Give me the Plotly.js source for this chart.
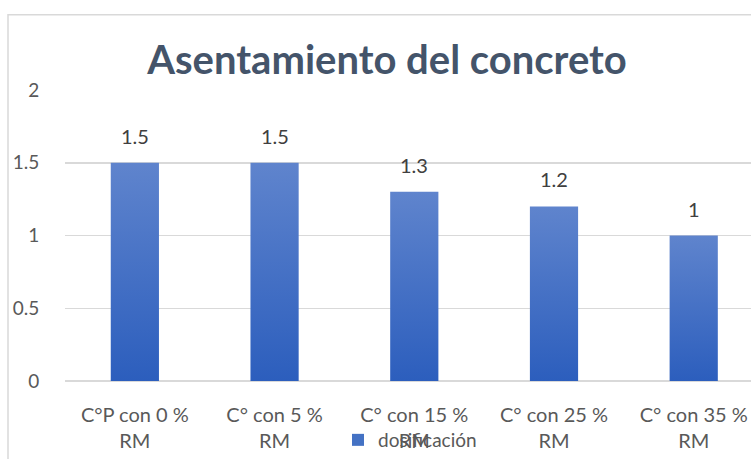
<!DOCTYPE html>
<html>
<head>
<meta charset="utf-8">
<script src="https://cdn.plot.ly/plotly-3.0.1.min.js"></script>
<style>
html,body{margin:0;padding:0;background:#fff;}
#chart{width:751px;height:459px;}
</style>
</head>
<body>
<div id="chart"></div>
<script>
var categories = ["C°P con 0 %<br>RM", "C° con 5 %<br>RM", "C° con 15 %<br>RM", "C° con 25 %<br>RM", "C° con 35 %<br>RM"];
var values = [1.5, 1.5, 1.3, 1.2, 1];
var valueLabels = ["1.5", "1.5", "1.3", "1.2", "1"];
var yTicks = [0, 0.5, 1, 1.5, 2];
var yTickText = ["0", "0.5", "1", "1.5", "2"];
var seriesName = "dosificación";
var chartTitle = "Asentamiento del concreto";

var xIdx = categories.map(function(_, i){ return i; });
var FONT = "Lato, 'Open Sans', sans-serif";
var L = 65, W = 751 - 65;

var trace = {
  type: "bar",
  x: xIdx,
  y: values,
  name: seriesName,
  width: 0.345,
  marker: {color: "#4472c4", line: {width: 0}},
  showlegend: true,
  hoverinfo: "none"
};

var annotations = xIdx.map(function(i){
  return {
    x: i, y: values[i], xref: "x", yref: "y",
    text: valueLabels[i], showarrow: false,
    yanchor: "bottom", yshift: 13,
    font: {family: FONT, size: 20, color: "#404040"}
  };
});

var layout = {
  width: 751, height: 459,
  margin: {l: L, r: 0, t: 90, b: 75, pad: 0},
  paper_bgcolor: "#ffffff",
  plot_bgcolor: "#ffffff",
  title: {
    text: "<b>" + chartTitle + "</b>",
    font: {family: FONT, size: 40, color: "#44546a"},
    x: (387 - L) / W, xanchor: "center", xref: "paper",
    y: 1 - 60/459, yanchor: "middle", yref: "container"
  },
  xaxis: {
    range: [-0.5, 4.41],
    tickvals: xIdx,
    ticktext: categories,
    showgrid: false, zeroline: false, showline: false,
    ticks: "outside", ticklen: 16, tickcolor: "rgba(0,0,0,0)",
    tickfont: {family: FONT, size: 20, color: "#595959"},
    fixedrange: true
  },
  yaxis: {
    range: [0, 2],
    tickvals: yTicks,
    ticktext: yTickText,
    showgrid: true, gridcolor: "#d9d9d9", gridwidth: 1.5,
    zeroline: true, zerolinecolor: "#d9d9d9", zerolinewidth: 1.5,
    showline: false,
    ticks: "outside", ticklen: 21, tickcolor: "rgba(0,0,0,0)",
    tickfont: {family: FONT, size: 19, color: "#595959"},
    fixedrange: true
  },
  showlegend: true,
  legend: {
    orientation: "h",
    x: (338 - L) / W, xanchor: "left",
    y: (384 - 444) / 294, yanchor: "middle",
    itemwidth: 30,
    font: {family: FONT, size: 19, color: "#595959"},
    bgcolor: "rgba(0,0,0,0)"
  },
  annotations: annotations,
  shapes: [{
    type: "rect", xref: "paper", yref: "paper",
    x0: (8 - L) / W, x1: 1.2,
    y0: -0.5, y1: (384 - 14) / 294,
    line: {color: "#d9d9d9", width: 1.5},
    fillcolor: "rgba(0,0,0,0)",
    layer: "below"
  }]
};

function applyGradient(gd){
  var svg = gd.querySelector("svg.main-svg");
  if (!svg) return;
  var defs = svg.querySelector("defs");
  if (!defs) { defs = document.createElementNS("http://www.w3.org/2000/svg", "defs"); svg.insertBefore(defs, svg.firstChild); }
  if (!defs.querySelector("#barGrad")) {
    var ns = "http://www.w3.org/2000/svg";
    var lg = document.createElementNS(ns, "linearGradient");
    lg.setAttribute("id", "barGrad");
    lg.setAttribute("x1", "0"); lg.setAttribute("y1", "0");
    lg.setAttribute("x2", "0"); lg.setAttribute("y2", "1");
    var s1 = document.createElementNS(ns, "stop");
    s1.setAttribute("offset", "0"); s1.setAttribute("stop-color", "#5f84cd");
    var s2 = document.createElementNS(ns, "stop");
    s2.setAttribute("offset", "1"); s2.setAttribute("stop-color", "#2c5ebd");
    lg.appendChild(s1); lg.appendChild(s2);
    defs.appendChild(lg);
  }
  gd.querySelectorAll(".barlayer .point path").forEach(function(p){
    p.style.fill = "url(#barGrad)";
  });
}

var gd = document.getElementById("chart");
Plotly.newPlot(gd, [trace], layout, {displayModeBar: false, staticPlot: true}).then(function(){
  applyGradient(gd);
  gd.on && gd.on("plotly_afterplot", function(){ applyGradient(gd); });
});
</script>
</body>
</html>
